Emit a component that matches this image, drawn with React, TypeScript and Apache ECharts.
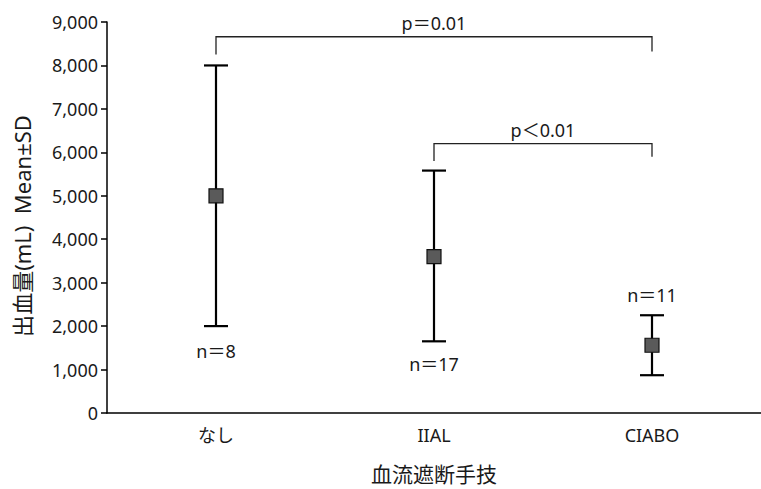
import React, { useEffect, useRef } from "react";
import * as echarts from "echarts";

const categories = ["なし", "IIAL", "CIABO"];
const means = [5000, 3600, 1560];
const upper = [8000, 5580, 2250];
const lower = [2000, 1650, 870];
const nLabels = ["n＝8", "n＝17", "n＝11"];
const nLabelValues = [1420, 1120, 2720];
// brackets
const bracketFrom = [0, 1];
const bracketTo = [2, 2];
const bracketLevel = [8660, 6200];
const bracketLeftEnd = [8250, 5800];
const bracketRightEnd = [8320, 5900];
const bracketLabels = ["p＝0.01", "p＜0.01"];
const yTicks = { min: 0, max: 9000, interval: 1000 };
const yAxisTitle = "出血量(mL)  Mean±SD";
const xAxisTitle = "血流遮断手技";

const FONT = "'Noto Sans', 'Noto Sans CJK JP', sans-serif";
const FS = 18;

export default function App() {
  const ref = useRef<HTMLDivElement>(null);
  useEffect(() => {
    if (!ref.current) return;
    const chart = echarts.init(ref.current, undefined, { renderer: "svg" });
    const errData = categories.map((_, i) => [i, lower[i], upper[i]]);
    const bracketData = bracketFrom.map((f, i) => [
      f,
      bracketTo[i],
      bracketLevel[i],
      bracketLeftEnd[i],
      bracketRightEnd[i],
      i,
    ]);
    chart.setOption({
      animation: false,
      backgroundColor: "#fff",
      textStyle: { fontFamily: FONT },
      grid: { left: 107, top: 22, height: 394, width: 660 },
      graphic: [
        {
          type: "text",
          x: 22,
          y: 226,
          rotation: Math.PI / 2,
          style: {
            text: yAxisTitle,
            fill: "#1a1a1a",
            font: `22px ${FONT}`,
            align: "center",
            verticalAlign: "middle",
          },
        },
      ],
      xAxis: {
        type: "category",
        data: categories,
        boundaryGap: true,
        axisLine: { lineStyle: { color: "#000", width: 1.5 } },
        axisTick: { length: 8, lineStyle: { color: "#000", width: 1.5 } },
        axisLabel: { color: "#1a1a1a", fontSize: FS, margin: 13, fontFamily: FONT },
        name: xAxisTitle,
        nameLocation: "middle",
        nameGap: 50,
        nameTextStyle: { color: "#1a1a1a", fontSize: 21, fontFamily: FONT },
      },
      yAxis: {
        type: "value",
        min: yTicks.min,
        max: yTicks.max,
        interval: yTicks.interval,
        splitLine: { show: false },
        axisLine: { show: true, lineStyle: { color: "#000", width: 1.5 } },
        axisTick: { show: true, length: 6, lineStyle: { color: "#000", width: 1.5 } },
        axisLabel: {
          color: "#1a1a1a",
          fontSize: FS,
          margin: 9,
          fontFamily: FONT,
          formatter: (v: number) => v.toLocaleString("en-US"),
        },
      },
      series: [
        {
          type: "custom",
          data: errData,
          z: 2,
          renderItem: (params: any, api: any) => {
            const x = api.value(0);
            const lo = api.coord([x, api.value(1)]);
            const hi = api.coord([x, api.value(2)]);
            const cap = 12;
            const style = { stroke: "#000", lineWidth: 2.2 };
            return {
              type: "group",
              children: [
                { type: "line", shape: { x1: hi[0], y1: hi[1], x2: lo[0], y2: lo[1] }, style },
                { type: "line", shape: { x1: hi[0] - cap, y1: hi[1], x2: hi[0] + cap, y2: hi[1] }, style },
                { type: "line", shape: { x1: lo[0] - cap, y1: lo[1], x2: lo[0] + cap, y2: lo[1] }, style },
              ],
            };
          },
        },
        {
          type: "scatter",
          data: means.map((m, i) => [i, m]),
          symbol: "rect",
          symbolSize: 14,
          z: 3,
          itemStyle: { color: "#5a5a5a", borderColor: "#111", borderWidth: 1.2, opacity: 1 },
        },
        {
          type: "custom",
          data: nLabels.map((_, i) => [i, nLabelValues[i], i]),
          renderItem: (params: any, api: any) => {
            const p = api.coord([api.value(0), api.value(1)]);
            return {
              type: "text",
              x: p[0],
              y: p[1],
              style: {
                text: nLabels[api.value(2)],
                fill: "#1a1a1a",
                font: `${FS}px ${FONT}`,
                align: "center",
                verticalAlign: "middle",
              },
            };
          },
        },
        {
          type: "custom",
          data: bracketData,
          renderItem: (params: any, api: any) => {
            const a = api.coord([api.value(0), api.value(2)]);
            const b = api.coord([api.value(1), api.value(2)]);
            const la = api.coord([api.value(0), api.value(3)]);
            const rb = api.coord([api.value(1), api.value(4)]);
            const style = { stroke: "#222", lineWidth: 1.3, fill: "none" };
            return {
              type: "group",
              children: [
                {
                  type: "polyline",
                  shape: { points: [[la[0], la[1]], [a[0], a[1]], [b[0], b[1]], [rb[0], rb[1]]] },
                  style,
                },
                {
                  type: "text",
                  x: (a[0] + b[0]) / 2,
                  y: a[1] - 5,
                  style: {
                    text: bracketLabels[api.value(5)],
                    fill: "#1a1a1a",
                    font: `${FS}px ${FONT}`,
                    align: "center",
                    verticalAlign: "bottom",
                  },
                },
              ],
            };
          },
        },
      ],
    });
    return () => chart.dispose();
  }, []);
  return (
    <div
      ref={ref}
      style={{ width: 761, height: 489, position: "fixed", left: 0, top: 0, overflow: "hidden" }}
    />
  );
}
